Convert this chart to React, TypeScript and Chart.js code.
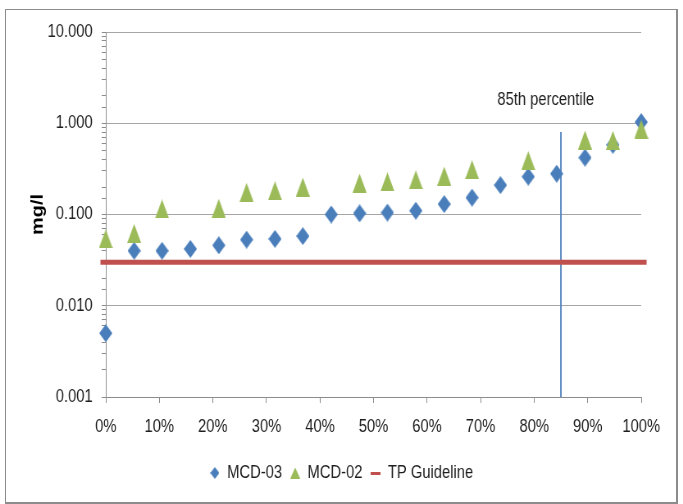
import { useEffect, useRef } from 'react';
import { Chart, registerables } from 'chart.js';

Chart.register(...registerables);

// Percentile rank (fraction of samples) and total phosphorus concentration (mg/l)
const mcd03Rank = [0, 0.053, 0.105, 0.158, 0.211, 0.263, 0.316, 0.368, 0.421, 0.474, 0.526, 0.579, 0.632, 0.684, 0.737, 0.789, 0.842, 0.895, 0.947, 1.0];
const mcd03Values = [0.005, 0.04, 0.04, 0.042, 0.046, 0.053, 0.054, 0.058, 0.1, 0.103, 0.105, 0.11, 0.13, 0.153, 0.21, 0.26, 0.28, 0.42, 0.58, 1.03];

const mcd02Rank = [0, 0.053, 0.105, 0.211, 0.263, 0.316, 0.368, 0.474, 0.526, 0.579, 0.632, 0.684, 0.789, 0.895, 0.947, 1.0];
const mcd02Values = [0.054, 0.062, 0.115, 0.117, 0.175, 0.182, 0.2, 0.221, 0.228, 0.24, 0.264, 0.31, 0.39, 0.655, 0.65, 0.86];

const guidelineValue = 0.03;
const guidelineRange = [-0.01, 1.01];

const percentileRank = 0.85;
const percentileSpan = [0.001, 0.8];
const percentileText = '85th percentile';
const percentileTextAt = { x: 0.8215, y: 1.8 };

const seriesNames = ['MCD-03', 'MCD-02', 'TP Guideline'];
const yDecades = [0.001, 0.01, 0.1, 1, 10];
const xTickStep = 0.1;

// The chart is laid out on a wider canvas and squeezed horizontally for display,
// which gives the condensed lettering and the tall markers of the printed figure.
const SQUEEZE = 0.82;
const VIEW_W = 683;
const VIEW_H = 504;
const CANVAS_W = Math.round(VIEW_W / SQUEEZE);

const BLUE = '#4a7ebb';
const GREEN = '#9bbb59';
const RED = '#c0504d';
const AXIS = '#8c8c8c';
const GRID = '#a6a6a6';
const TEXT = '#1e1e1e';
const SANS = "'Liberation Sans', Arial, sans-serif";

type Painter = (g: CanvasRenderingContext2D, w: number, h: number) => void;

function markerCanvas(w: number, h: number, paint: Painter) {
  const c = document.createElement('canvas');
  c.width = w;
  c.height = h;
  const g = c.getContext('2d')!;
  paint(g, w, h);
  return c;
}

const diamond = (w: number, h: number, color: string) =>
  markerCanvas(w, h, (g) => {
    g.fillStyle = color;
    g.beginPath();
    g.moveTo(w / 2, 0);
    g.lineTo(w, h / 2);
    g.lineTo(w / 2, h);
    g.lineTo(0, h / 2);
    g.closePath();
    g.fill();
  });

const triangle = (w: number, h: number, color: string) =>
  markerCanvas(w, h, (g) => {
    g.fillStyle = color;
    g.beginPath();
    g.moveTo(w / 2, 0);
    g.lineTo(w, h);
    g.lineTo(0, h);
    g.closePath();
    g.fill();
  });

const dash = (w: number, h: number, color: string) =>
  markerCanvas(w, h, (g) => {
    g.fillStyle = color;
    g.fillRect(0, 0, w, h);
  });

const isDecade = (v: number | undefined) =>
  v !== undefined && yDecades.some((d) => Math.abs(d - v) < d * 1e-6);

const percentileLabelPlugin = {
  id: 'percentileLabel',
  afterDatasetsDraw(chart: any) {
    const { ctx, scales } = chart;
    const x = scales.x.getPixelForValue(percentileTextAt.x);
    const y = scales.y.getPixelForValue(percentileTextAt.y);
    ctx.save();
    ctx.font = `18px ${SANS}`;
    ctx.fillStyle = TEXT;
    ctx.textAlign = 'center';
    ctx.textBaseline = 'middle';
    ctx.fillText(percentileText, x, y);
    ctx.restore();
  },
};

export default function App() {
  const canvasRef = useRef<HTMLCanvasElement | null>(null);

  useEffect(() => {
    if (!canvasRef.current) return;

    const plotDiamond = diamond(16, 18, BLUE);
    const plotTriangle = triangle(17, 19, GREEN);
    const legendMarks = [diamond(11, 12, BLUE), triangle(12, 11, GREEN), dash(12, 3, RED)];
    const legendColors = [BLUE, GREEN, RED];

    const chart = new Chart(canvasRef.current, {
      type: 'scatter',
      data: {
        datasets: [
          {
            label: seriesNames[0],
            data: mcd03Rank.map((x, i) => ({ x, y: mcd03Values[i] })),
            pointStyle: plotDiamond,
            backgroundColor: BLUE,
            borderColor: BLUE,
            clip: false,
            order: 1,
            yAxisID: 'y',
          },
          {
            label: seriesNames[1],
            data: mcd02Rank.map((x, i) => ({ x, y: mcd02Values[i] })),
            pointStyle: plotTriangle,
            backgroundColor: GREEN,
            borderColor: GREEN,
            clip: false,
            order: 0,
            yAxisID: 'y',
          },
          {
            label: seriesNames[2],
            data: guidelineRange.map((x) => ({ x, y: guidelineValue })),
            showLine: true,
            borderColor: RED,
            backgroundColor: RED,
            borderWidth: 5,
            pointRadius: 0,
            clip: false,
            order: 2,
            yAxisID: 'y',
          },
          {
            label: percentileText,
            data: percentileSpan.map((y) => ({ x: percentileRank, y })),
            showLine: true,
            borderColor: BLUE,
            borderWidth: 1.8,
            pointRadius: 0,
            order: 3,
            yAxisID: 'y',
          },
        ],
      },
      options: {
        responsive: false,
        maintainAspectRatio: false,
        animation: false,
        events: [],
        layout: { padding: { left: 10, top: 32, right: 10, bottom: 12 } },
        plugins: {
          tooltip: { enabled: false },
          legend: {
            position: 'bottom',
            labels: {
              usePointStyle: true,
              pointStyleWidth: 12,
              padding: 10,
              color: TEXT,
              font: { family: SANS, size: 18 },
              generateLabels: () =>
                seriesNames.map((text, i) => ({
                  text,
                  pointStyle: legendMarks[i],
                  fillStyle: legendColors[i],
                  strokeStyle: legendColors[i],
                  lineWidth: 0,
                  hidden: false,
                  datasetIndex: i,
                  fontColor: TEXT,
                })),
            },
          },
        },
        scales: {
          x: {
            type: 'linear',
            min: 0,
            max: 1,
            grid: { drawOnChartArea: false, drawTicks: true, tickLength: 6, tickColor: AXIS },
            border: { color: AXIS, width: 1 },
            ticks: {
              stepSize: xTickStep,
              autoSkip: false,
              maxRotation: 0,
              padding: 13,
              color: TEXT,
              font: { family: SANS, size: 18 },
              callback: (v: any) => `${Math.round(Number(v) * 100)}%`,
            },
            afterFit: (s: any) => {
              s.height = 57;
            },
          },
          y: {
            type: 'logarithmic',
            position: 'left',
            min: yDecades[0],
            max: yDecades[yDecades.length - 1],
            grid: {
              color: (c: any) => (isDecade(c.tick?.value) ? GRID : 'rgba(0,0,0,0)'),
              tickColor: AXIS,
              tickLength: 5,
              drawTicks: true,
            },
            border: { color: AXIS, width: 1 },
            ticks: {
              autoSkip: false,
              padding: 11,
              color: TEXT,
              font: { family: SANS, size: 18 },
              callback: (v: any) => (isDecade(Number(v)) ? Number(v).toFixed(3) : ''),
            },
            title: {
              display: true,
              text: 'mg/l',
              color: '#000',
              font: { family: SANS, size: 20, weight: 'bold' },
              padding: { top: 24, bottom: 0 },
            },
            afterFit: (s: any) => {
              s.width = 119;
            },
          },
          yPad: {
            type: 'linear',
            position: 'right',
            display: true,
            grid: { display: false },
            border: { display: false },
            ticks: { display: false },
            afterFit: (s: any) => {
              s.width = 41;
            },
          },
        },
      },
      plugins: [percentileLabelPlugin],
    } as any);

    return () => chart.destroy();
  }, []);

  return (
    <div style={{ position: 'absolute', left: 0, top: 0, width: VIEW_W, height: VIEW_H, overflow: 'hidden', background: '#fff' }}>
      <canvas
        ref={canvasRef}
        width={CANVAS_W}
        height={VIEW_H}
        style={{
          position: 'absolute',
          left: 0,
          top: 0,
          width: CANVAS_W,
          height: VIEW_H,
          transform: `scaleX(${SQUEEZE})`,
          transformOrigin: '0 0',
        }}
      />
      <div
        style={{
          position: 'absolute',
          left: 5,
          top: 9,
          width: 673,
          height: 495,
          boxSizing: 'border-box',
          borderTop: '1px solid #8c8c8c',
          borderLeft: '1px solid #8c8c8c',
          borderRight: '2px solid #8c8c8c',
          borderBottom: '2px solid #8c8c8c',
          pointerEvents: 'none',
        }}
      />
    </div>
  );
}
